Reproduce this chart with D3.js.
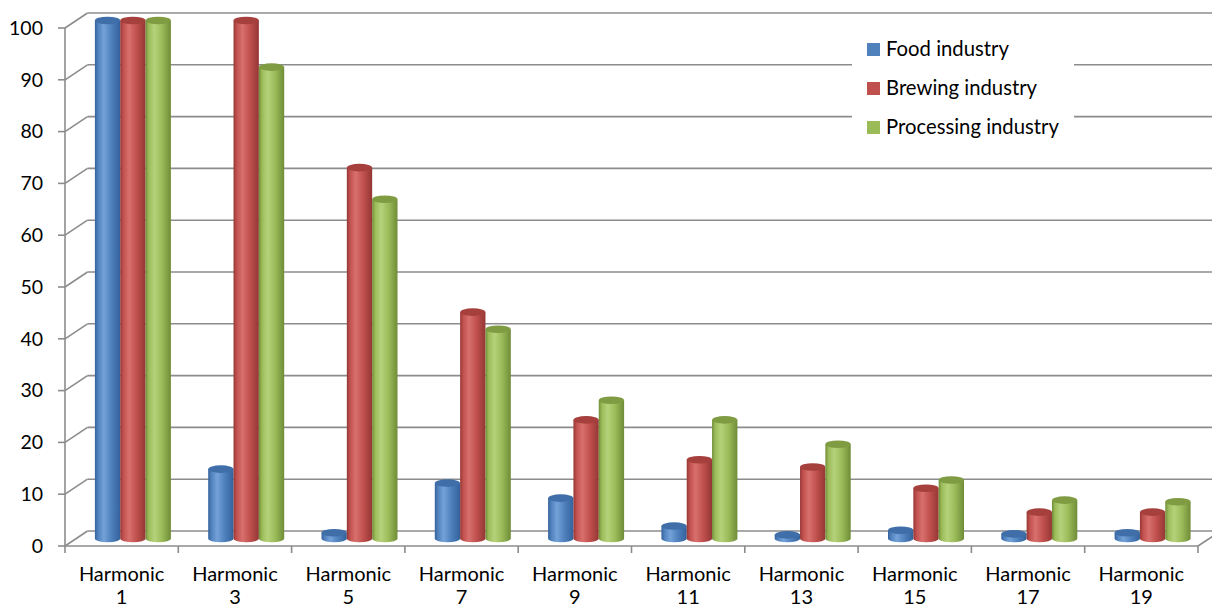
<!DOCTYPE html>
<html><head><meta charset="utf-8">
<script src="https://cdn.jsdelivr.net/npm/d3@7"></script>
<style>html,body{margin:0;padding:0;background:#fff;} svg{display:block;}</style>
</head><body>
<svg id="chart" width="1212" height="610"></svg>
<script>
const categories = ["Harmonic 1","Harmonic 3","Harmonic 5","Harmonic 7","Harmonic 9","Harmonic 11","Harmonic 13","Harmonic 15","Harmonic 17","Harmonic 19"];
const seriesNames = ["Food industry","Brewing industry","Processing industry"];
const foodIndustry = [100, 13.4, 1.1, 10.7, 7.8, 2.4, 0.7, 1.6, 0.9, 1.1];
const brewingIndustry = [100, 100, 71.6, 43.7, 22.9, 15.2, 13.8, 9.7, 5.1, 5.1];
const processingIndustry = [100, 91, 65.5, 40.4, 26.7, 22.9, 18.2, 11.3, 7.4, 7.1];
const yTicks = [0,10,20,30,40,50,60,70,80,90,100];

const series = [foodIndustry, brewingIndustry, processingIndustry];
const colors = [
  {dark:"#34619b", base:"#4f81bd", light:"#74a1d8", top:"#3f6ea8"},
  {dark:"#943735", base:"#c0504d", light:"#d8706d", top:"#a5403d"},
  {dark:"#6f8c37", base:"#9bbb59", light:"#b5d27a", top:"#7f9c43"}
];

const svg = d3.select("#chart");
const font = "Lato, 'Liberation Sans', sans-serif";
const DX = 22.5, DY = -15;
const x0 = 65, x1 = 1198;
const y = d3.scaleLinear().domain([0,100]).range([546, 28]);
const x = d3.scaleBand().domain(categories).range([x0, x1]);
const grid = "#8c8c8c";

// gradients
const defs = svg.append("defs");
colors.forEach((c,i)=>{
  const g = defs.append("linearGradient").attr("id","body"+i).attr("x1","0").attr("x2","1").attr("y1","0").attr("y2","0");
  g.append("stop").attr("offset","0%").attr("stop-color",c.dark);
  g.append("stop").attr("offset","12%").attr("stop-color",c.base);
  g.append("stop").attr("offset","35%").attr("stop-color",c.light);
  g.append("stop").attr("offset","65%").attr("stop-color",c.base);
  g.append("stop").attr("offset","100%").attr("stop-color",c.dark);
});

// back wall gridlines + side wall diagonals
const gGrid = svg.append("g");
yTicks.forEach(t=>{
  const yf = y(t);
  gGrid.append("line").attr("x1",x0+DX).attr("x2",x1+DX+20).attr("y1",yf+DY).attr("y2",yf+DY)
    .attr("stroke",grid).attr("stroke-width",1.6);
  gGrid.append("line").attr("x1",x0).attr("x2",x0+DX).attr("y1",yf).attr("y2",yf+DY)
    .attr("stroke",grid).attr("stroke-width",1.6);
});
// floor right diagonal
gGrid.append("line").attr("x1",x1).attr("x2",x1+DX).attr("y1",y(0)).attr("y2",y(0)+DY).attr("stroke",grid).attr("stroke-width",1.6);

// front axes
svg.append("line").attr("x1",x0).attr("x2",x0).attr("y1",y(100)).attr("y2",y(0)).attr("stroke",grid).attr("stroke-width",1.6);
svg.append("line").attr("x1",x0).attr("x2",x1).attr("y1",y(0)).attr("y2",y(0)).attr("stroke",grid).attr("stroke-width",1.6);
yTicks.forEach(t=>{
  svg.append("line").attr("x1",x0-7).attr("x2",x0).attr("y1",y(t)).attr("y2",y(t)).attr("stroke",grid).attr("stroke-width",1.6);
  svg.append("text").attr("x",43).attr("y",y(t)).attr("dy","0.35em").attr("text-anchor","end")
    .attr("font-family",font).attr("font-size",19.5).attr("fill","#000").text(t);
});
const bounds = categories.map(c=>x(c)).concat([x1]);
bounds.forEach(b=>{
  svg.append("line").attr("x1",b).attr("x2",b).attr("y1",y(0)).attr("y2",y(0)+7).attr("stroke",grid).attr("stroke-width",1.6);
});
categories.forEach(c=>{
  const parts = c.split(" ");
  const cx = x(c) + x.bandwidth()/2;
  const t = svg.append("text").attr("text-anchor","middle").attr("font-family",font).attr("font-size",20).attr("fill","#000");
  t.append("tspan").attr("x",cx).attr("y",581).text(parts[0]);
  t.append("tspan").attr("x",cx).attr("y",604).text(parts[1]);
});

// bars (cylinders) at mid depth
const inner = d3.scaleBand().domain([0,1,2]).range([0, 76]);
const ry = 3.8;
const gBars = svg.append("g");
categories.forEach((c,ci)=>{
  const gx = x(c) + x.bandwidth()/2 + DX/2 - 38;
  series.forEach((s,si)=>{
    const v = s[ci];
    const bx = gx + inner(si), w = inner.bandwidth();
    const yb = y(0) + DY/2, yt = y(v) + DY/2;
    const rx = w/2;
    gBars.append("path")
      .attr("d",`M${bx},${yt} L${bx},${yb} A${rx},${ry} 0 0 0 ${bx+w},${yb} L${bx+w},${yt} Z`)
      .attr("fill",`url(#body${si})`);
    gBars.append("ellipse").attr("cx",bx+rx).attr("cy",yt).attr("rx",rx).attr("ry",ry)
      .attr("fill",colors[si].top);
  });
});

// legend
const lg = svg.append("g");
lg.append("rect").attr("x",852).attr("y",30).attr("width",222).attr("height",116).attr("fill","#fff");
seriesNames.forEach((n,i)=>{
  const cy = 49 + i*39;
  lg.append("rect").attr("x",867).attr("y",cy-6).attr("width",13).attr("height",13).attr("fill",colors[i].base);
  lg.append("text").attr("x",886).attr("y",cy).attr("dy","0.35em").attr("font-family",font).attr("font-size",20.3).attr("fill","#000").text(n);
});
</script>
</body></html>
